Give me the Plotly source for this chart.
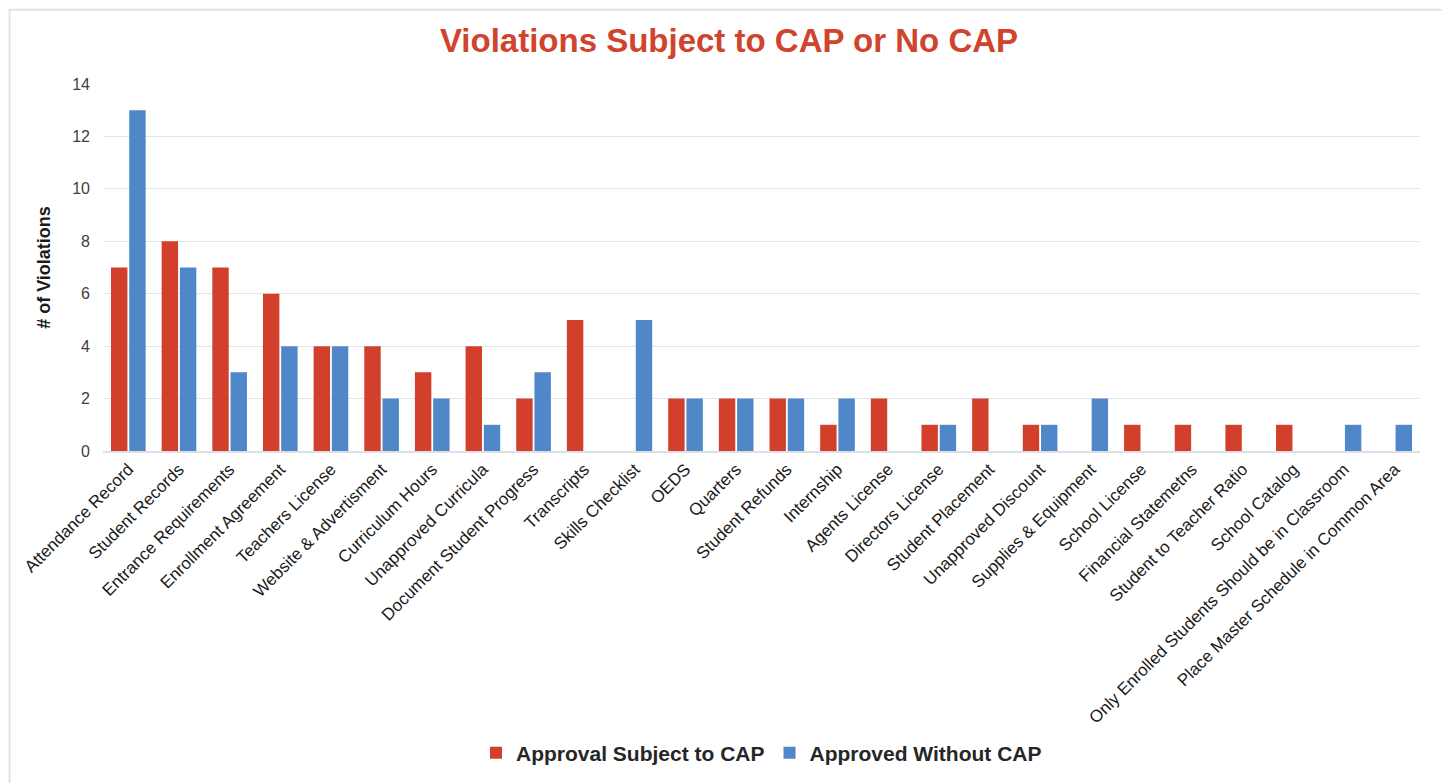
import plotly.graph_objects as go

categories = [
    "Attendance Record", "Student Records", "Entrance Requirements", "Enrollment Agreement",
    "Teachers License", "Website & Advertisment", "Curriculum Hours", "Unapproved Curricula",
    "Document Student Progress", "Transcripts", "Skills Checklist", "OEDS", "Quarters",
    "Student Refunds", "Internship", "Agents License", "Directors License", "Student Placement",
    "Unapproved Discount", "Supplies & Equipment", "School License", "Financial Statemetns",
    "Student to Teacher Ratio", "School Catalog",
    "Only Enrolled Students Should be in Classroom", "Place Master Schedule in Common Area",
]
subject_to_cap = [7, 8, 7, 6, 4, 4, 3, 4, 2, 5, 0, 2, 2, 2, 1, 2, 1, 2, 1, 0, 1, 1, 1, 1, 0, 0]
without_cap = [13, 7, 3, 4, 4, 2, 2, 1, 3, 0, 5, 2, 2, 2, 2, 0, 1, 0, 1, 2, 0, 0, 0, 0, 1, 1]
y_ticks = [0, 2, 4, 6, 8, 10, 12, 14]

OFF = 8  # page body margin
W, H = 1450 - OFF, 783 - OFF
ml, mr, mt, mb = 103 - OFF, 30, 84 - OFF, 331
pw, ph = W - ml - mr, H - mt - mb

fig = go.Figure()
fig.add_trace(go.Bar(x=categories, y=subject_to_cap, name="Approval Subject to CAP",
                     marker=dict(color="#D2402C", line=dict(width=0))))
fig.add_trace(go.Bar(x=categories, y=without_cap, name="Approved Without CAP",
                     marker=dict(color="#5087C8", line=dict(width=0))))

def px_x(p):
    return (p - OFF - ml) / pw

def px_y(p):
    return (H - mb - (p - OFF)) / ph

# light frame around the chart (left, top, right edges)
fig.add_shape(type="rect", xref="paper", yref="paper",
              x0=px_x(9.5), x1=px_x(1443), y0=px_y(800), y1=px_y(9.5),
              line=dict(color="#DFE4EC", width=2), fillcolor="rgba(0,0,0,0)", layer="below")

fig.update_layout(
    width=W, height=H,
    margin=dict(l=ml, r=mr, t=mt, b=mb),
    paper_bgcolor="white", plot_bgcolor="white",
    font=dict(family="Liberation Sans, Arial, sans-serif", color="#404040"),
    title=dict(text="<b>Violations Subject to CAP or No CAP</b>", x=0.5, xanchor="center",
               y=1 - (40 - OFF) / H, yanchor="middle",
               font=dict(size=33, color="#D0432C", family="Liberation Sans, Arial, sans-serif")),
    barmode="group", bargap=0.28, bargroupgap=0.1,
    xaxis=dict(tickangle=-45, tickfont=dict(size=17, color="#1a1a1a"), showgrid=False,
               showline=True, linecolor="#DCE0E6", linewidth=1.5, ticks="", automargin=False),
    yaxis=dict(range=[0, 14], tickvals=y_ticks, tickfont=dict(size=16, color="#404040"),
               showgrid=True, gridcolor="#E2E5EA", gridwidth=1, zeroline=False,
               ticklabelstandoff=12,
               title=dict(text="<b># of Violations</b>", font=dict(size=18, color="#1a1a1a"), standoff=16),
               ticks="", automargin=False),
    legend=dict(orientation="h", x=0.5, xanchor="center", y=px_y(753), yanchor="middle",
                font=dict(size=21, color="#262626", weight="bold"), itemwidth=30,
                traceorder="normal", itemsizing="constant"),
    showlegend=True,
)

fig.write_html("out.html")
